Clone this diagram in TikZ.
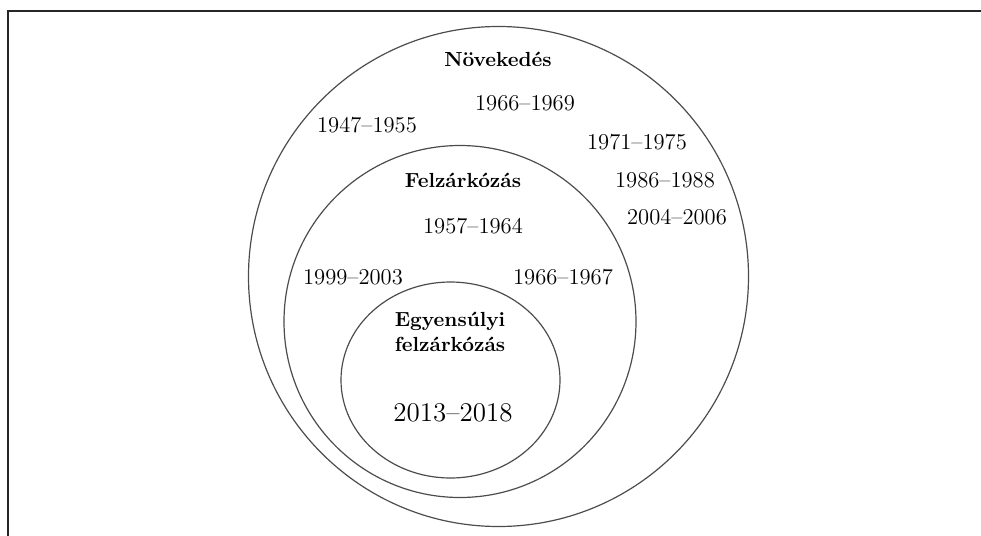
\documentclass[tikz,border=0pt]{standalone}
\usepackage{fontspec}

\tikzset{
  ring/.style={draw=black!70, line width=0.6pt},
  yr/.style={font=\fontsize{11.3}{13}\selectfont, inner sep=0pt},
  ttl/.style={font=\bfseries\fontsize{10.2}{12.5}\selectfont, align=center, inner sep=0pt}
}

\begin{document}
\begin{tikzpicture}[x=0.5pt,y=-0.5pt]
      \useasboundingbox (0,0) rectangle (981,536);
      % frame
      \draw[line width=0.9pt, black!85] (8,536) -- (8,11) -- (981,11);
      % rings
      \draw[ring] (498.5,276.5) circle (125pt);
      \draw[ring] (460,321.5) circle (88pt);
      \draw[ring] (450.5,380) ellipse (54.75pt and 49pt);
      % outer ring
      \node[ttl, anchor=base] (grow) at (498,66) {Növekedés};
      \node[yr] (grow1) at (525,103) {1966–1969};
      \node[yr] (grow2) at (367,125) {1947–1955};
      \node[yr] (grow3) at (637,142) {1971–1975};
      \node[yr] (grow4) at (665,180) {1986–1988};
      \node[yr] (grow5) at (677,217) {2004–2006};
      % middle ring
      \node[ttl, anchor=base] (catch) at (463,187) {Felzárkózás};
      \node[yr] (catch1) at (473,226) {1957–1964};
      \node[yr] (catch2) at (353,277) {1999–2003};
      \node[yr] (catch3) at (563,277) {1966–1967};
      % inner ring
      \node[ttl] (bal) at (450,332) {Egyensúlyi\\felzárkózás};
      \node[yr, font=\fontsize{13.5}{15}\selectfont] (bal1) at (453,413) {2013–2018};
    \end{tikzpicture}
\end{document}
